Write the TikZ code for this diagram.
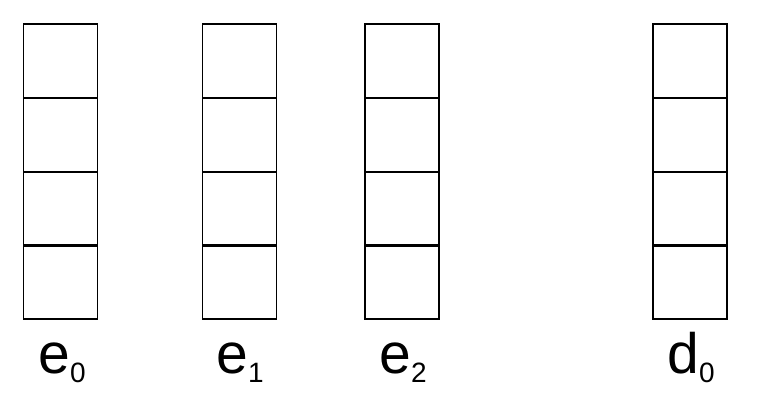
\documentclass[tikz,border=0pt]{standalone}
\usepackage{fontspec}
\setmainfont{Liberation Sans}
\usetikzlibrary{positioning}
\newcommand{\subidx}[1]{\raisebox{-8.5pt}{\fontsize{28}{30}\selectfont #1}}

\begin{document}
\begin{tikzpicture}[
    x=1pt, y=1pt,
    cell/.style={
      draw=black,
      line width=1.3pt,
      minimum width=74pt,
      minimum height=74pt,
      inner sep=0pt
    },
    lbl/.style={
      anchor=base,
      inner sep=0pt,
      font=\fontsize{57}{60}\selectfont
    }
  ]
  \useasboundingbox (0,0) rectangle (766,411);

  % Columns of cells
  \foreach \r/\y in {1/350,2/276,3/202,4/129} {
    \node[cell] (ezero-\r) at (60.75,\y) {};
    \node[cell] (eone-\r)  at (239.7,\y) {};
    \node[cell] (etwo-\r)  at (402,\y)   {};
    \node[cell] (dzero-\r) at (690,\y)   {};
  }

  % Labels
  \node[lbl] (ezero-lbl) at (62,37)  {e\subidx{0}};
  \node[lbl] (eone-lbl)  at (240,37) {e\subidx{1}};
  \node[lbl] (etwo-lbl)  at (403,37) {e\subidx{2}};
  \node[lbl] (dzero-lbl) at (691,37) {d\subidx{0}};

\end{tikzpicture}
\end{document}
